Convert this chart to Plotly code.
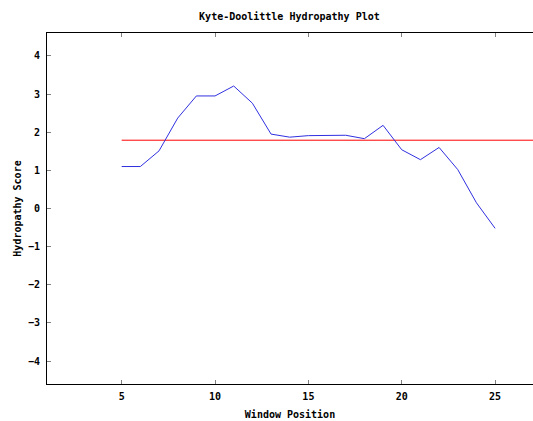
import plotly.graph_objects as go

positions = list(range(5, 26))
scores = [1.10, 1.10, 1.51, 2.37, 2.95, 2.95, 3.21, 2.76, 1.95, 1.87, 1.91,
          1.92, 1.92, 1.83, 2.18, 1.54, 1.28, 1.60, 1.02, 0.15, -0.52]
threshold_x = [5, 27.5]
threshold_y = [1.79, 1.79]
x_ticks = [5, 10, 15, 20, 25]
y_ticks = [-4, -3, -2, -1, 0, 1, 2, 3, 4]

font = dict(family="DejaVu Sans Mono", size=10, color="#000000", weight="bold")

fig = go.Figure()
fig.add_trace(go.Scatter(x=threshold_x, y=threshold_y, mode="lines",
                         line=dict(color="#ff0000", width=1), hoverinfo="skip"))
fig.add_trace(go.Scatter(x=positions, y=scores, mode="lines",
                         line=dict(color="#3030e0", width=1)))

fig.update_layout(
    width=533, height=421,
    margin=dict(l=47, r=0, t=33, b=37),
    paper_bgcolor="white", plot_bgcolor="white",
    showlegend=False,
    font=font,
    title=dict(text="Kyte-Doolittle Hydropathy Plot", x=0.543, xanchor="center",
               y=1 - 16 / 421, yanchor="middle", font=font),
    xaxis=dict(range=[1, 27.03], tickvals=x_ticks, showgrid=False, zeroline=False,
               showline=True, linecolor="#000000", linewidth=1, mirror="ticks",
               ticks="inside", ticklen=4, tickcolor="#808080",
               ticklabelstandoff=3,
               title=dict(text="Window Position", font=font, standoff=9),
               tickfont=font),
    yaxis=dict(range=[-4.6, 4.6], tickvals=y_ticks, showgrid=False, zeroline=False,
               showline=True, linecolor="#000000", linewidth=1, mirror=False,
               ticks="inside", ticklen=4, tickcolor="#808080",
               ticklabelstandoff=4,
               title=dict(text="Hydropathy Score", font=font, standoff=4),
               tickfont=font),
)

fig.write_html("out.html")
